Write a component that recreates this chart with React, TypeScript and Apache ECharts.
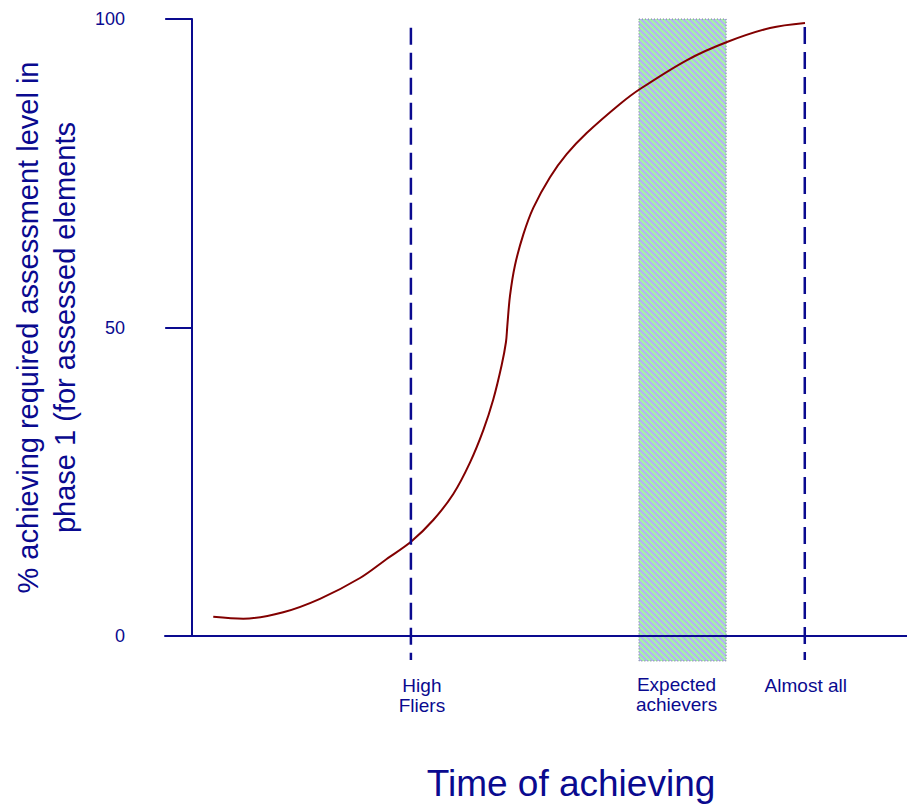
import React, { useEffect, useRef } from 'react';
import * as echarts from 'echarts';

// Curve: time (x, arbitrary units) vs % achieving (y)
const curveX = [2.95, 7.15, 12.74, 17.88, 23.48, 27.21, 30.65, 33.73, 36.53, 38.86, 40.73, 42.12, 43.30, 43.90, 44.08, 44.46, 45.16, 46.32, 47.72, 50.06, 52.39, 55.19, 59.85, 62.65, 69.23, 74.82, 80.84, 85.73];
const curveY = [3.11, 2.80, 3.86, 6.03, 9.40, 12.48, 15.32, 18.80, 23.01, 28.10, 33.37, 38.33, 43.92, 47.65, 50.15, 55.11, 60.08, 65.06, 69.40, 74.36, 78.09, 81.51, 86.22, 88.65, 93.35, 96.27, 98.54, 99.35];

// Dashed marker lines
const markerNames = ['High\nFliers', 'Almost all'];
const markerX = [30.6, 85.7];
const markerYBottom = [-3.9, -3.9];
const markerYTop = [98.6, 98.7];

// Shaded band
const bandName = ['Expected\nachievers'];
const bandX0 = [62.5];
const bandX1 = [74.7];
const bandYBottom = [-4.05];
const bandYTop = [100];

const yTicks = [0, 50, 100];

// label style offsets (pixels)
const markerLabelDx = [11, 1];
const bandLabelDx = [-6];

const NAVY = '#0a0a8f';
const FONT = "'Liberation Sans', Arial, sans-serif";

export default function App() {
  const ref = useRef<HTMLDivElement>(null);
  useEffect(() => {
    const chart = echarts.init(ref.current!, null, { renderer: 'svg' });

    const p = 6;
    const canvas = document.createElement('canvas');
    canvas.width = p;
    canvas.height = p;
    const ctx = canvas.getContext('2d')!;
    for (let y = 0; y < p; y++) {
      for (let x = 0; x < p; x++) {
        ctx.fillStyle = (((x - y) % p) + p) % p < p / 2 ? '#a6f2a6' : '#b4b4f0';
        ctx.fillRect(x, y, 1, 1);
      }
    }
    const pattern = { image: canvas, repeat: 'repeat' };

    const option: any = {
      animation: false,
      grid: { left: 165, right: 0, top: 19, bottom: 171, containLabel: false, outerBoundsMode: 'none' },
      xAxis: {
        type: 'value',
        min: -3.8,
        max: 100,
        axisLine: { show: true, onZero: true, lineStyle: { color: NAVY, width: 2 } },
        axisTick: { show: false },
        axisLabel: { show: false },
        splitLine: { show: false },
        name: 'Time of achieving',
        nameLocation: 'middle',
        nameGap: 129,
        nameTextStyle: { color: NAVY, fontSize: 37, fontFamily: FONT, padding: [0, 0, 0, 70] },
      },
      yAxis: {
        type: 'value',
        min: 0,
        max: 100,
        interval: 50,
        axisLine: { show: true, onZero: true, lineStyle: { color: NAVY, width: 2 } },
        axisTick: { show: true, length: 27, lineStyle: { color: NAVY, width: 2 } },
        axisLabel: {
          color: NAVY, fontSize: 18, fontFamily: FONT, margin: 40,
          customValues: yTicks,
        },
        splitLine: { show: false },
        name: '% achieving required assessment level in\nphase 1 (for assessed elements',
        nameLocation: 'middle',
        nameRotate: 90,
        nameGap: 82,
        nameTextStyle: { color: NAVY, fontSize: 29, lineHeight: 37, fontFamily: FONT, align: 'center' },
      },
      series: [
        {
          type: 'custom',
          z: -1,
          clip: false,
          silent: true,
          data: bandX0.map((x0, i) => [x0, bandX1[i], bandYBottom[i], bandYTop[i], i]),
          renderItem: (params: any, api: any) => {
            const i = api.value(4);
            const tl = api.coord([api.value(0), api.value(3)]);
            const br = api.coord([api.value(1), api.value(2)]);
            return {
              type: 'group',
              children: [
                {
                  type: 'rect',
                  shape: { x: tl[0], y: tl[1], width: br[0] - tl[0], height: br[1] - tl[1] },
                  style: { fill: pattern, stroke: '#6f7a8f', lineWidth: 1, lineDash: [1, 2] },
                },
                {
                  type: 'text',
                  x: (tl[0] + br[0]) / 2 + bandLabelDx[i],
                  y: br[1] + 14,
                  style: {
                    text: bandName[i], fill: NAVY, font: `19px ${FONT}`,
                    align: 'center', verticalAlign: 'top', lineHeight: 20,
                  },
                },
              ],
            };
          },
        },
        {
          type: 'line',
          data: curveX.map((x, i) => [x, curveY[i]]),
          showSymbol: false,
          smooth: 0.33,
          lineStyle: { color: '#820000', width: 2 },
          z: 3,
        },
        {
          type: 'custom',
          clip: false,
          silent: true,
          z: 4,
          data: markerX.map((x, i) => [x, markerYBottom[i], markerYTop[i], i]),
          renderItem: (params: any, api: any) => {
            const i = api.value(3);
            const top = api.coord([api.value(0), api.value(2)]);
            const bot = api.coord([api.value(0), api.value(1)]);
            return {
              type: 'group',
              children: [
                {
                  type: 'line',
                  shape: { x1: top[0], y1: top[1], x2: bot[0], y2: bot[1] },
                  style: { stroke: NAVY, lineWidth: 2.5, lineDash: [17, 8] },
                },
                {
                  type: 'text',
                  x: bot[0] + markerLabelDx[i],
                  y: bot[1] + 15,
                  style: {
                    text: markerNames[i], fill: NAVY, font: `19px ${FONT}`,
                    align: 'center', verticalAlign: 'top', lineHeight: 20,
                  },
                },
              ],
            };
          },
        },
      ],
    };
    chart.setOption(option);
    return () => chart.dispose();
  }, []);
  return (
    <div
      ref={ref}
      style={{ position: 'fixed', left: 0, top: 0, width: 907, height: 807, background: '#fff' }}
    />
  );
}
